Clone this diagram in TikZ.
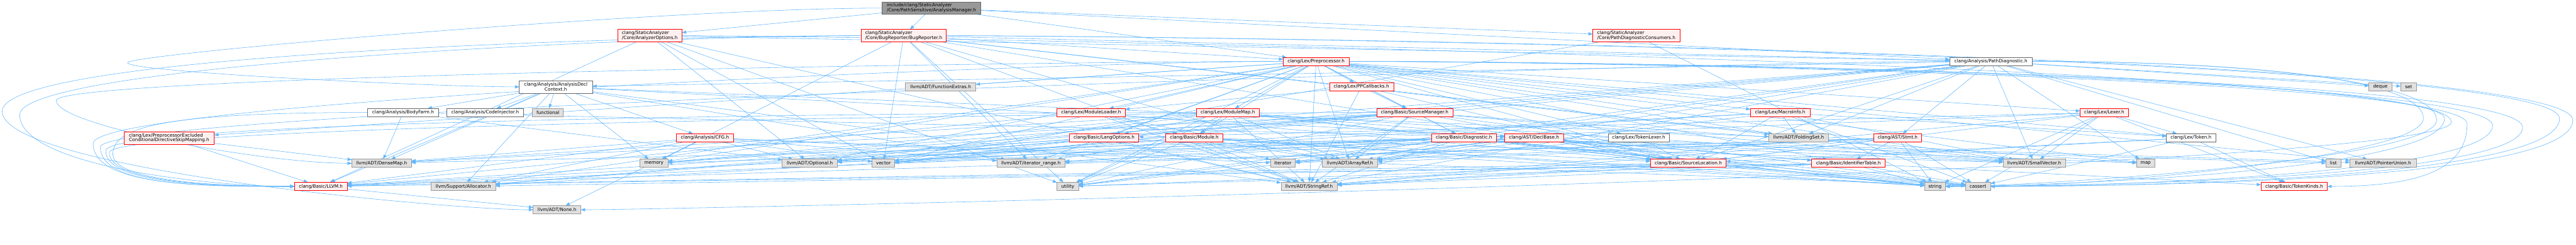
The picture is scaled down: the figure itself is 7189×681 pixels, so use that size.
\documentclass[tikz,border=0pt]{standalone}
\usepackage{fontspec}
\setmainfont{DejaVu Sans}
\usetikzlibrary{arrows.meta,calc}
\pgfdeclarelayer{bg}
\pgfsetlayers{bg,main}
\definecolor{edgec}{HTML}{63B8FF}
\definecolor{redfill}{HTML}{FFF0F0}
\definecolor{grayfill}{HTML}{E0E0E0}
\definecolor{graydraw}{HTML}{999999}
\definecolor{topfill}{HTML}{999999}
\definecolor{topdraw}{HTML}{666666}
\tikzset{
  base/.style={rectangle, inner sep=0pt, outer sep=0pt, line width=1.1bp,
    font=\fontsize{12.8bp}{13.6bp}\selectfont, text=black},
  rbox/.style={base, draw=red, fill=redfill},
  gbox/.style={base, draw=graydraw, fill=grayfill},
  wbox/.style={base, draw=topdraw, fill=white},
  tbox/.style={base, draw=topdraw, fill=topfill},
  inc/.style={draw=edgec, line width=1bp, -{Triangle[length=12bp,width=9bp]}},
}
\newcommand{\nd}[6]{\node[#1, minimum width=#4bp, minimum height=#5bp] (#2) at (#3) {#6};}
\newcommand{\edges}[2]{\foreach \t in {#2}{\draw[inc] (#1) -- (\t);}}
% left loop: source, target, xL, ym, b
\newcommand{\LL}[5]{\draw[inc] (#1.west) .. controls ($(#1.west)+(-600,0)$) and (#3,#4-#5) .. (#3,#4) .. controls (#3,#4+#5) and ($(#2.west)+(-250,0)$) .. (#2.west);}
% right loop
\newcommand{\RL}[5]{\draw[inc] (#1.east) .. controls ($(#1.east)+(600,0)$) and (#3,#4-#5) .. (#3,#4) .. controls (#3,#4+#5) and ($(#2.east)+(250,0)$) .. (#2.east);}
\begin{document}
\begin{tikzpicture}[x=1bp,y=-1bp]
\useasboundingbox (0,0) rectangle (7189,681);
% nodes
\nd{tbox,align=left}{AM}{2599.5,22.5}{275}{35}{include/clang/StaticAnalyzer\\/Core/PathSensitive/AnalysisManager.h}
\nd{rbox,align=left}{AO}{1813.5,99.5}{179}{35}{clang/StaticAnalyzer\\/Core/AnalyzerOptions.h}
\nd{rbox,align=left}{BR}{2522,99.5}{238}{35}{clang/StaticAnalyzer\\/Core/BugReporter/BugReporter.h}
\nd{rbox,align=left}{PDC}{4566.5,99.5}{243}{35}{clang/StaticAnalyzer\\/Core/PathDiagnosticConsumers.h}
\nd{rbox}{PP}{3673,171}{184}{23}{clang/Lex/Preprocessor.h}
\nd{wbox}{PD}{5556,171}{230}{23}{clang/Analysis/PathDiagnostic.h}
\nd{wbox,align=center}{ADC}{1551,242}{204}{35}{clang/Analysis/AnalysisDecl\\Context.h}
\nd{gbox}{FE}{2625,241.5}{196}{23}{llvm/ADT/FunctionExtras.h}
\nd{rbox}{PPC}{3799.5,241.5}{179}{23}{clang/Lex/PPCallbacks.h}
\nd{gbox}{DQ}{6643,241.5}{64}{23}{deque}
\nd{gbox}{SET}{6722,241.5}{44}{23}{set}
\nd{wbox}{BF}{1125,313.5}{198}{23}{clang/Analysis/BodyFarm.h}
\nd{wbox}{CI}{1354,313.5}{214}{23}{clang/Analysis/CodeInjector.h}
\nd{gbox}{FN}{1529,313.5}{86}{23}{functional}
\nd{rbox}{ML}{3045,313.5}{190}{23}{clang/Lex/ModuleLoader.h}
\nd{rbox}{MM}{3426.5,313.5}{177}{23}{clang/Lex/ModuleMap.h}
\nd{rbox}{SM}{3948,313.5}{212}{23}{clang/Basic/SourceManager.h}
\nd{rbox}{MI}{4968,313.5}{166}{23}{clang/Lex/MacroInfo.h}
\nd{rbox}{LX}{5872.5,313.5}{135}{23}{clang/Lex/Lexer.h}
\nd{rbox,align=left}{PECD}{472,384.5}{252}{35}{clang/Lex/PreprocessorExcluded\\ConditionalDirectiveSkipMapping.h}
\nd{rbox}{CFG}{1967.5,384}{159}{23}{clang/Analysis/CFG.h}
\nd{rbox}{LO}{3081,384}{194}{23}{clang/Basic/LangOptions.h}
\nd{rbox}{MOD}{3333,384}{160}{23}{clang/Basic/Module.h}
\nd{rbox}{DIAG}{4085.5,384}{181}{23}{clang/Basic/Diagnostic.h}
\nd{rbox}{DB}{4281,384}{164}{23}{clang/AST/DeclBase.h}
\nd{wbox}{TL}{4573,384}{170}{23}{clang/Lex/TokenLexer.h}
\nd{gbox}{FS}{5019.5,384}{167}{23}{llvm/ADT/FoldingSet.h}
\nd{rbox}{ST}{5296,384}{134}{23}{clang/AST/Stmt.h}
\nd{wbox}{TK}{6114.5,384}{137}{23}{clang/Lex/Token.h}
\nd{gbox}{DM}{1065,455}{166}{23}{llvm/ADT/DenseMap.h}
\nd{gbox}{MEM}{1825,455}{78}{23}{memory}
\nd{gbox}{OPT}{2260,455}{154}{23}{llvm/ADT/Optional.h}
\nd{gbox}{VEC}{2465.5,455}{63}{23}{vector}
\nd{gbox}{IR}{2877,455}{190}{23}{llvm/ADT/iterator\_range.h}
\nd{gbox}{ITER}{3580,455}{70}{23}{iterator}
\nd{gbox}{AR}{3767.5,455}{155}{23}{llvm/ADT/ArrayRef.h}
\nd{rbox}{SL}{4711.5,455}{211}{23}{clang/Basic/SourceLocation.h}
\nd{rbox}{IT}{5158.5,455}{205}{23}{clang/Basic/IdentifierTable.h}
\nd{gbox}{SV}{5677,455}{174}{23}{llvm/ADT/SmallVector.h}
\nd{gbox}{MAP}{5988,455}{50}{23}{map}
\nd{gbox}{LIST}{6512,455}{42}{23}{list}
\nd{gbox}{PU}{6650.5,455}{185}{23}{llvm/ADT/PointerUnion.h}
\nd{rbox}{LLVM}{895.5,519.5}{147}{23}{clang/Basic/LLVM.h}
\nd{gbox}{ALLOC}{1293,519.5}{180}{23}{llvm/Support/Allocator.h}
\nd{gbox}{UTIL}{2980,519.5}{60}{23}{utility}
\nd{gbox}{SR}{3653.5,519.5}{157}{23}{llvm/ADT/StringRef.h}
\nd{gbox}{STR}{5400,519.5}{58}{23}{string}
\nd{gbox}{CAS}{5520,519.5}{70}{23}{cassert}
\nd{rbox}{TKS}{6402.5,519.5}{185}{23}{clang/Basic/TokenKinds.h}
\nd{gbox}{NONE}{1554.5,584.5}{133}{23}{llvm/ADT/None.h}
% edges
\begin{pgfonlayer}{bg}
\fill[white] (0,0) rectangle (7189,681);
\edges{AM}{AO,BR,PDC,PP,PD}
\LL{AM}{ADC}{356}{175}{25}
\edges{AO}{PD,OPT,SR,UTIL,VEC,LLVM}
\RL{AO}{STR}{6822}{330}{150}
\edges{BR}{PD,SL,PP,AR,FS,SV,SR,IR,MEM,UTIL,VEC}
\LL{BR}{NONE}{6}{310}{160}
\LL{BR}{LLVM}{55}{320}{140}
\RL{BR}{CAS}{7143}{330}{180}
\RL{BR}{STR}{7180}{335}{190}
\edges{PDC}{STR,VEC}
\edges{PP}{DIAG,IT,LO,MOD,SL,SM,LX,MI,ML,MM,PPC,PECD,TK,TL,AR,FS,FE,OPT,PU,SV,SR,IR,ALLOC,MAP,MEM,UTIL,VEC}
\LL{PP}{LLVM}{260}{400}{120}
\LL{PP}{DM}{157}{280}{70}
\RL{PP}{NONE}{6841}{340}{140}
\RL{PP}{TKS}{6885}{345}{130}
\RL{PP}{CAS}{6956}{350}{140}
\RL{PP}{STR}{7040}{355}{150}
\edges{PD}{ST,ADC,SL,AR,FS,OPT,PU,SV,SR,ALLOC,DQ,ITER,LIST,MAP,MEM,SET,UTIL,VEC}
\LL{PD}{LLVM}{280}{410}{110}
\RL{PD}{CAS}{6763}{330}{110}
\RL{PD}{STR}{6800}{335}{110}
\edges{ADC}{DB,BF,CFG,CI,LLVM,DM,FS,SR,IR,ALLOC,FN,MEM}
\edges{PPC}{SL,SM,ML,SR}
\edges{BF}{DB,DM,OPT}
\LL{BF}{LLVM}{315}{430}{70}
\edges{ML}{LLVM,MOD,SL,AR,SR}
\edges{MM}{IT,LO,MOD,SL,AR,DM,OPT,SV,SR,MEM,STR,UTIL}
\LL{MM}{LLVM}{295}{420}{90}
\edges{SM}{DIAG,SL,AR,DM,OPT,SV,SR,ALLOC,CAS,MAP,MEM,UTIL,VEC}
\LL{SM}{LLVM}{305}{425}{80}
\edges{MI}{LLVM,SL,TK,AR,FS,SV,ALLOC,CAS}
\edges{LX}{LO,SL,TKS,TK,OPT,SV,SR,CAS,STR}
\edges{PECD}{LLVM,DM}
\edges{CFG}{LLVM,DM,NONE,OPT,IR,ALLOC,CAS,ITER,MEM,VEC}
\edges{LO}{LLVM,SR,STR,VEC}
\edges{MOD}{SL,AR,OPT,SV,SR,IR,CAS,ITER,STR,UTIL,VEC}
\edges{DIAG}{SL,AR,DM,OPT,SV,SR,IR,CAS,LIST,MAP,MEM,STR,UTIL,VEC}
\edges{DB}{IT,LLVM,SL,AR,PU,IR,CAS,ITER,STR,UTIL}
\edges{TL}{SL,AR}
\edges{ST}{IT,LLVM,SL,AR,SR,IR,CAS,ITER,STR}
\edges{TK}{SL,TKS,SR,CAS}
\edges{SL}{LLVM,SR,CAS,STR,UTIL}
\edges{IT}{LLVM,TKS,SR,ALLOC,CAS,STR,UTIL}
\edges{LLVM}{NONE}
\end{pgfonlayer}
\end{tikzpicture}
\end{document}
